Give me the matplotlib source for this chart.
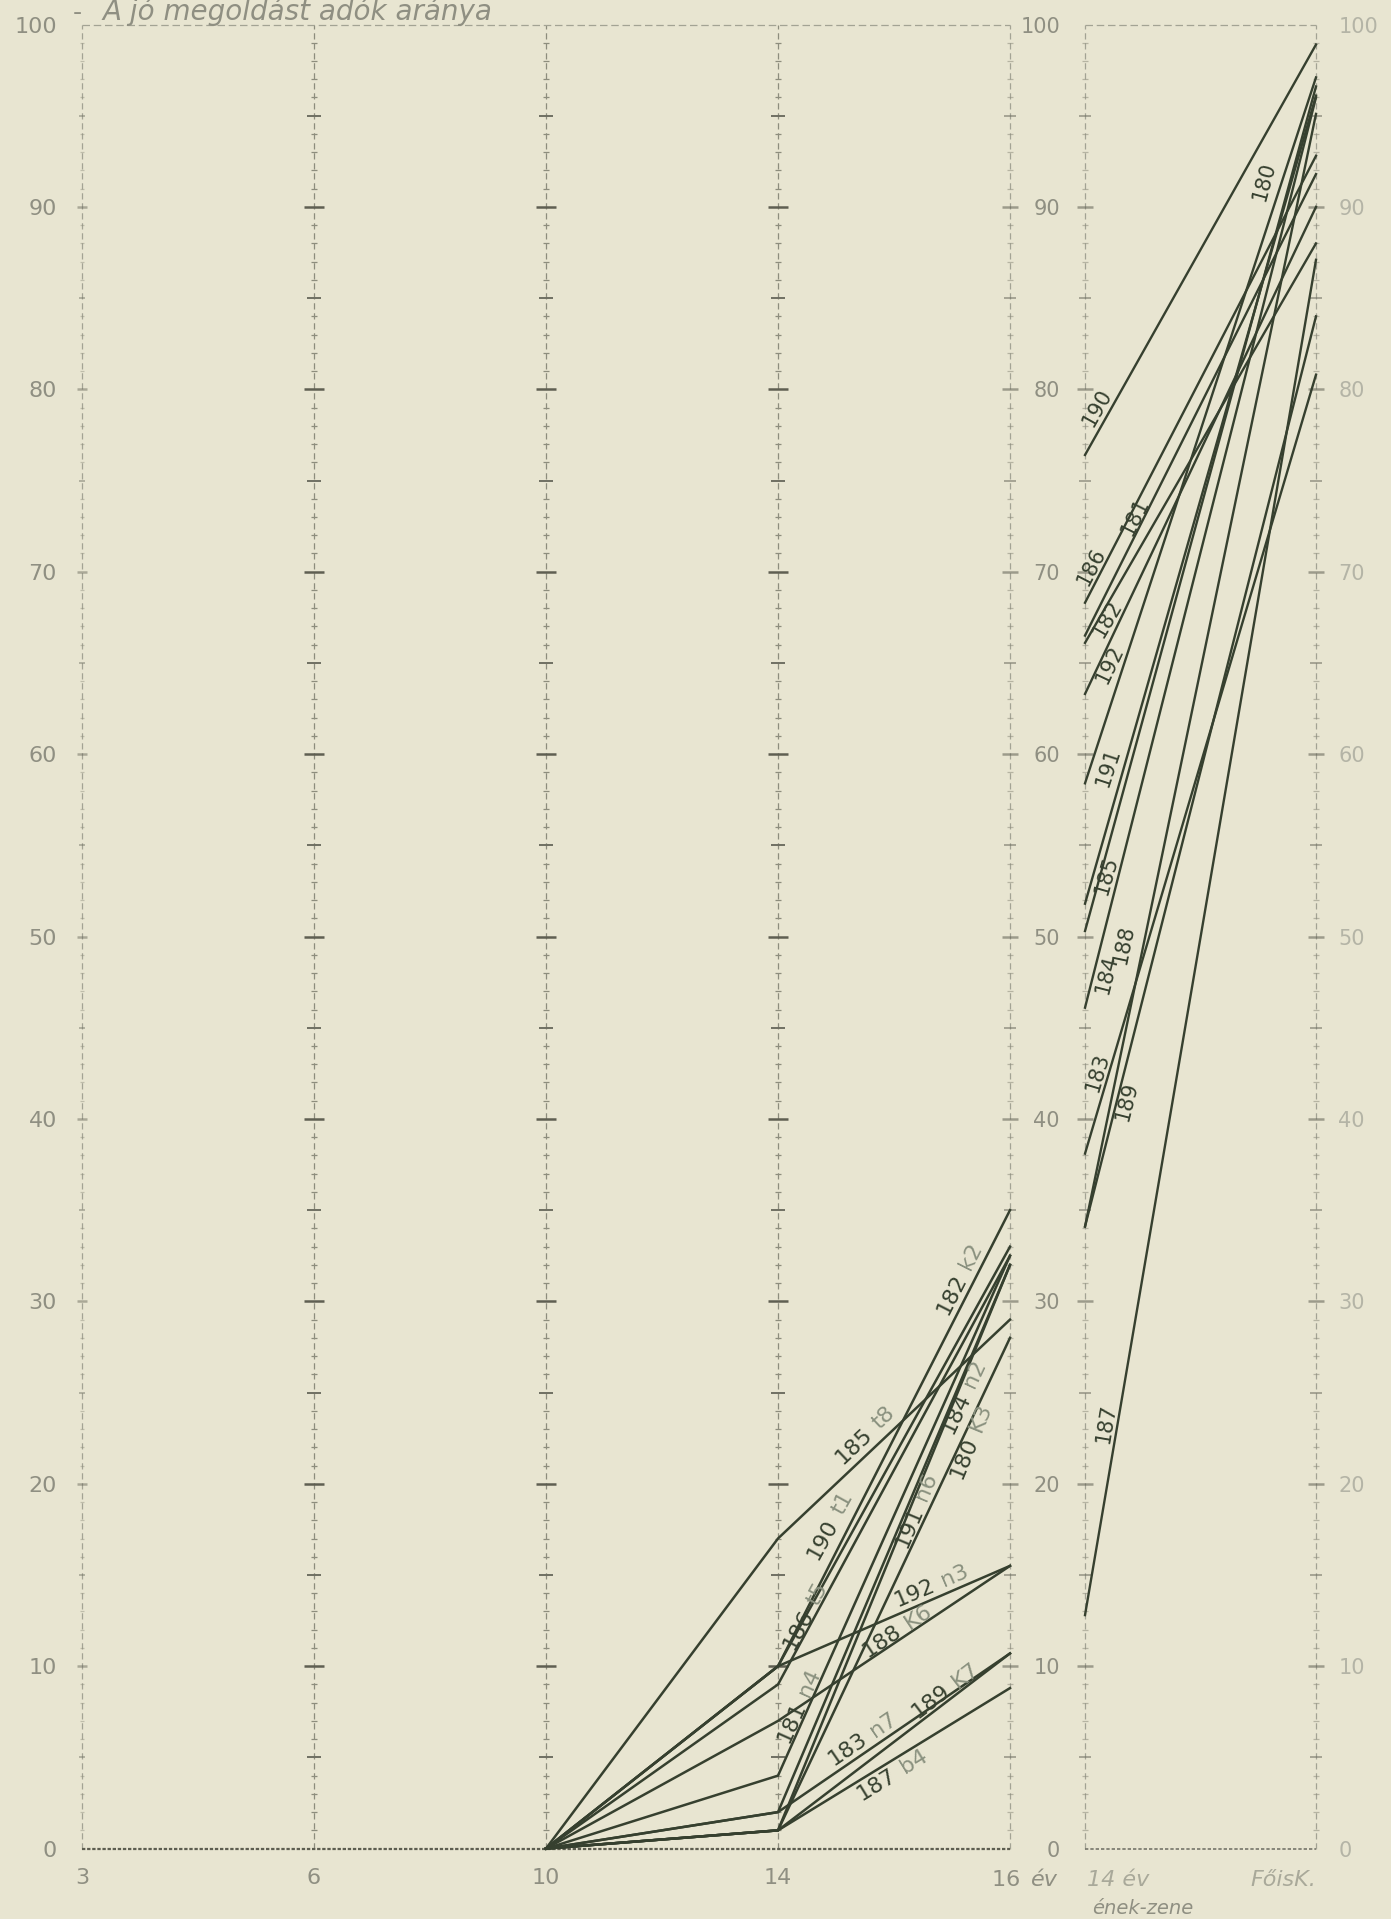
import numpy as np
import matplotlib
matplotlib.use("Agg")
import matplotlib.pyplot as plt

# ---------------- data ----------------
series = ["180", "181", "182", "183", "184", "185", "186",
          "187", "188", "189", "190", "191", "192"]
ages = ["3", "6", "10", "14", "16"]
# share (%) of correct solutions; at 3, 6 and 10 years every series is 0
val_3 = [0] * 13
val_6 = [0] * 13
val_10 = [0] * 13
val_14 = [1, 4, 10, 2, 1, 17, 9, 1, 7, 1, 10, 2, 10]
val_16 = [32, 32.5, 35, 10.7, 28, 29, 32.5, 8.8, 15.5, 10.7, 33, 32, 15.5]
left_suffix = ["K3", "n4", "k2", "n7", "n2", "t8", "t5", "b4", "K6", "K7", "t1", "n6", "n3"]

right_cats = ["14 év", "FőisK."]
right_start = [50.3, 66.5, 66.1, 38.1, 46.1, 51.8, 68.3, 12.8, 34.1, 34.1, 76.4, 58.4, 63.3]
right_end = [96.6, 91.8, 88.0, 80.8, 96.0, 96.1, 92.8, 87.1, 95.1, 84.0, 98.9, 97.1, 90.0]

yticks = list(range(0, 101, 10))
title = "A jó megoldást adók aránya"

# label placement along lines (fraction along segment, perpendicular offset in pt)
left_lab_t = [0.72, 0.14, 0.85, 0.42, 0.88, 0.45, 0.17, 0.49, 0.56, 0.77, 0.33, 0.57, 0.71]
left_lab_off = [-22, 7, 10, 9, 12, 11, 6, -9, 6, 7, 16, -7, 9]
right_lab_t = [0.88, 0.25, 0.07, 0.10, 0.04, 0.04, 0.07, 0.14, 0.25, 0.14, 0.10, 0.03, 0.07]
right_lab_off = [18, 6, -5, 8, -9, -9, 8, 8, 14, -7, 9, -12, -7]

# ---------------- style ----------------
BG = "#e8e5d1"
LINE = "#36402f"
GRID = "#8d8d7d"
TXT = "#8f8f82"
FAINT = "#a9a99a"

W, H = 1391, 1919
fig = plt.figure(figsize=(W / 100, H / 100), dpi=100, facecolor=BG)

y0px, y100px = 1848.6, 24.5
bottom = 1 - y0px / H
height = (y0px - y100px) / H

axL = fig.add_axes([82 / W, bottom, (1010 - 82) / W, height])
axR = fig.add_axes([1085 / W, bottom, (1316 - 1085) / W, height])

for ax in (axL, axR):
    ax.set_facecolor(BG)
    for s in ax.spines.values():
        s.set_visible(False)
    ax.set_ylim(0, 100)

axL.set_xlim(0, len(ages) - 1)
axR.set_xlim(0, 1)


def dashed_axis(ax, x, color=GRID):
    ax.plot([x, x], [0, 100], ls=(0, (5, 3)), color=color, lw=0.9, zorder=1,
            clip_on=False)


def tick_column(ax, x, small=5, mid=10, big=15, alpha=1.0):
    yv = np.arange(1, 100)
    ys = [v for v in yv if v % 5 != 0]
    ym = [v for v in yv if v % 5 == 0 and v % 10 != 0]
    yb = [v for v in yv if v % 10 == 0]
    ax.plot([x] * len(ys), ys, ls="none", marker="_", ms=small, mew=0.9,
            color=GRID, alpha=alpha, clip_on=False, zorder=1)
    ax.plot([x] * len(ym), ym, ls="none", marker="_", ms=mid, mew=1.4,
            color="#6f6f62", alpha=alpha, clip_on=False, zorder=1)
    ax.plot([x] * len(yb), yb, ls="none", marker="_", ms=big, mew=1.8,
            color="#5f5f52", alpha=alpha, clip_on=False, zorder=1)


# ----- left panel frame -----
for i in range(len(ages)):
    dashed_axis(axL, i, color=GRID if i in (1, 2, 3) else "#a3a394")
for i in (1, 2, 3):
    tick_column(axL, i)
tick_column(axL, 0, small=3, mid=5, big=7, alpha=0.45)
tick_column(axL, len(ages) - 1, small=5, mid=8, big=11, alpha=0.55)
axL.plot([0, len(ages) - 1], [100, 100], ls=(0, (6, 3)), color="#a3a394", lw=0.9,
         clip_on=False)
axL.plot([0, len(ages) - 1], [0, 0], ls=(0, (1.5, 0.8)), color="#5d5d50", lw=1.6,
         clip_on=False, zorder=2)

# ----- right panel frame -----
dashed_axis(axR, 0, color="#a3a394")
dashed_axis(axR, 1, color="#a3a394")
tick_column(axR, 0, small=5, mid=8, big=11, alpha=0.55)
tick_column(axR, 1, small=5, mid=8, big=11, alpha=0.55)
axR.plot([0, 1], [100, 100], ls=(0, (6, 3)), color="#a3a394", lw=0.9, clip_on=False)
axR.plot([0, 1], [0, 0], ls=(0, (2, 1.2)), color="#75756a", lw=1.2, clip_on=False)

# ----- ticks / labels -----
axL.set_yticks(yticks)
axL.set_yticklabels([str(v) for v in yticks], fontsize=16, color=TXT)
axL.tick_params(axis="y", length=0, pad=18)
axL.set_xticks(range(len(ages) - 1))
axL.set_xticklabels(ages[:-1], fontsize=16, color=TXT)
axL.tick_params(axis="x", length=0, pad=14)
axL.text(len(ages) - 1, -1.2, ages[-1] + " ", fontsize=16, color=TXT,
         ha="center", va="top")
axL.text(len(ages) - 1 + 0.09, -1.2, "év", fontsize=16, color=TXT,
         ha="left", va="top", style="italic")

axR.set_yticks(yticks)
axR.set_yticklabels([str(v) for v in yticks], fontsize=15, color=TXT)
axR.tick_params(axis="y", length=0, pad=18)
axR2 = axR.twinx()
axR2.set_ylim(0, 100)
axR2.set_yticks(yticks)
axR2.set_yticklabels([str(v) for v in yticks], fontsize=15, color="#b4b4a6")
axR2.tick_params(axis="y", length=0, pad=16)
for s in axR2.spines.values():
    s.set_visible(False)
axR.set_xticks([0, 1])
axR.set_xticklabels(["", ""])
axR.tick_params(axis="x", length=0)
axR.text(0.01, -1.2, right_cats[0], fontsize=16, color=FAINT, ha="left", va="top",
         style="italic")
axR.text(1.0, -1.2, right_cats[1], fontsize=16, color=FAINT, ha="right", va="top",
         style="italic")
axR.text(0.03, -2.75, "ének-zene", fontsize=14, color=TXT, ha="left", va="top",
         style="italic")

fig.text(0.052, 0.9895, "-", fontsize=18, color=TXT, ha="left", va="baseline")
fig.text(0.0740, 0.9895, title, fontsize=20, color=TXT, ha="left",
         va="baseline", style="italic")


# ----- data lines -----
def place(ax, x0, y0, x1, y1, t, off, parts, fs):
    xm = x0 + (x1 - x0) * t
    ym = y0 + (y1 - y0) * t
    p0 = ax.transData.transform((x0, y0))
    p1 = ax.transData.transform((x1, y1))
    ang = np.degrees(np.arctan2(p1[1] - p0[1], p1[0] - p0[0]))
    a = np.radians(ang)
    nx, ny = -np.sin(a), np.cos(a)
    dx, dy = np.cos(a), np.sin(a)
    if len(parts) == 1:
        ax.annotate(parts[0], (xm, ym), xytext=(nx * off, ny * off),
                    textcoords="offset points", rotation=ang,
                    rotation_mode="anchor", ha="center", va="center",
                    fontsize=fs, color=LINE, zorder=5)
    else:
        g = 3
        ax.annotate(parts[0], (xm, ym),
                    xytext=(nx * off - dx * g, ny * off - dy * g),
                    textcoords="offset points", rotation=ang,
                    rotation_mode="anchor", ha="right", va="center",
                    fontsize=fs, color=LINE, zorder=5)
        ax.annotate(parts[1], (xm, ym),
                    xytext=(nx * off + dx * g, ny * off + dy * g),
                    textcoords="offset points", rotation=ang,
                    rotation_mode="anchor", ha="left", va="center",
                    fontsize=fs, color="#8a917f", zorder=5)


xpos = np.arange(len(ages))
for i, s in enumerate(series):
    vals = [val_10[i], val_14[i], val_16[i]]
    axL.plot(xpos[2:], vals, color=LINE, lw=1.8, solid_joinstyle="miter",
             zorder=4, clip_on=False)
    place(axL, xpos[3], val_14[i], xpos[4], val_16[i], left_lab_t[i],
          left_lab_off[i], [s, left_suffix[i]], 16)

for i, s in enumerate(series):
    axR.plot([0, 1], [right_start[i], right_end[i]], color=LINE, lw=1.7,
             zorder=4, clip_on=False)
    place(axR, 0, right_start[i], 1, right_end[i], right_lab_t[i],
          right_lab_off[i], [s], 15)

fig.savefig("out.png", dpi=100, facecolor=BG)
